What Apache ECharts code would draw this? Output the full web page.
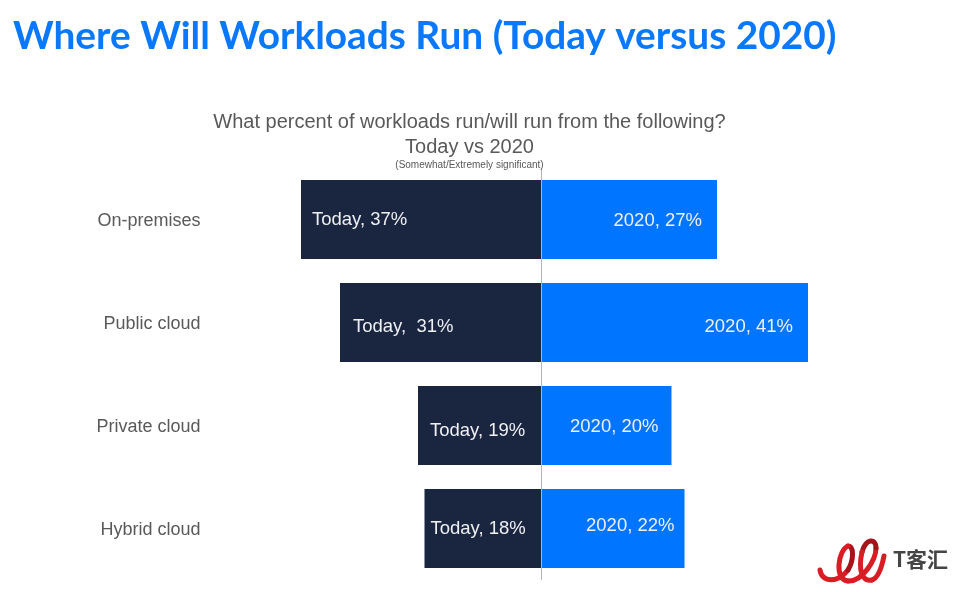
<!DOCTYPE html>
<html>
<head>
<meta charset="utf-8">
<style>
  html, body { margin: 0; padding: 0; background: #fff; }
  #chart { width: 960px; height: 592px; }
</style>
<script src="https://cdn.jsdelivr.net/npm/echarts@6/dist/echarts.min.js"></script>
</head>
<body>
<div id="chart"></div>
<script>
const categories = ['On-premises', 'Public cloud', 'Private cloud', 'Hybrid cloud'];
const todayValues = [37, 31, 19, 18];
const futureValues = [27, 41, 20, 22];
const todayLabels = ['Today, 37%', 'Today,  31%', 'Today, 19%', 'Today, 18%'];
const futureLabels = ['2020, 27%', '2020, 41%', '2020, 20%', '2020, 22%'];

// the labels are placed by hand in the original, so they do not line up
const todayOffsets = [[11, 0], [13, 4], [12, 5], [6, 0]];
const futureOffsets = [[-15, 1], [-15, 4], [-13, 1], [-10, -3]];

const sans = '"Liberation Sans", Arial, sans-serif';

function barData(values, labels, offsets, sign, position)
{
    return values.map((value, i) => ({
        value: sign * value,
        label: { formatter: labels[i], position: position, distance: 0, offset: offsets[i] }
    }));
}

function logoStroke(x1, y1, cpx1, cpy1, cpx2, cpy2, x2, y2, color)
{
    return {
        type: 'bezierCurve',
        shape: { x1, y1, cpx1, cpy1, cpx2, cpy2, x2, y2 },
        style: { fill: 'none', stroke: color, lineWidth: 5, lineCap: 'round' }
    };
}

const chart = echarts.init(document.getElementById('chart'));

chart.setOption({
    animation: false,
    backgroundColor: '#fff',
    title: [
        {
            text: 'Where Will Workloads Run (Today versus 2020)',
            left: 13, top: 17, padding: 0,
            textStyle: { color: '#0a78fb', fontFamily: 'Lato', fontWeight: 'bold', fontSize: 38.8 }
        },
        {
            text: 'What percent of workloads run/will run from the following?',
            left: 469.5, top: 112, padding: 0, textAlign: 'center',
            textStyle: { color: '#595959', fontFamily: sans, fontWeight: 'normal', fontSize: 20 }
        },
        {
            text: 'Today vs 2020',
            left: 469.5, top: 137, padding: 0, textAlign: 'center',
            textStyle: { color: '#595959', fontFamily: sans, fontWeight: 'normal', fontSize: 20 }
        },
        {
            text: '(Somewhat/Extremely significant)',
            left: 469.5, top: 160, padding: 0, textAlign: 'center',
            textStyle: { color: '#595959', fontFamily: sans, fontWeight: 'normal', fontSize: 10 }
        }
    ],
    grid: { left: 216.5, width: 650, top: 168, height: 412 },
    xAxis: { type: 'value', min: -50, max: 50, show: false },
    yAxis: {
        type: 'category',
        data: categories,
        inverse: true,
        axisLine: { show: false },
        axisTick: { show: false },
        axisLabel: {
            margin: 16,
            formatter: '{name|{value}}',
            rich: {
                name: { color: '#595959', fontFamily: sans, fontSize: 18, padding: [4, 0, 0, 0] }
            }
        }
    },
    series: [
        {
            name: 'Today',
            type: 'bar',
            stack: 'share',
            barWidth: 79,
            itemStyle: { color: '#1a2540' },
            label: { show: true, color: '#eef0f4', fontFamily: sans, fontSize: 18.5 },
            data: barData(todayValues, todayLabels, todayOffsets, -1, 'insideLeft')
        },
        {
            name: '2020',
            type: 'bar',
            stack: 'share',
            barWidth: 79,
            itemStyle: { color: '#0075ff' },
            label: { show: true, color: '#eef0f4', fontFamily: sans, fontSize: 18.5 },
            // centre line between the two sides
            markLine: {
                silent: true,
                symbol: 'none',
                label: { show: false },
                lineStyle: { color: '#b4b4b4', width: 1, type: 'solid' },
                data: [{ xAxis: 0 }]
            },
            data: barData(futureValues, futureLabels, futureOffsets, 1, 'insideRight')
        }
    ],
    graphic: [
        // watermark logo
        logoStroke(820, 570, 822, 583, 838, 583, 848, 570, '#d81e24'),
        logoStroke(848, 570, 854, 560, 854, 546, 848, 546, '#a5141a'),
        logoStroke(848, 546, 838, 550, 834, 580, 848, 581, '#d81e24'),
        logoStroke(848, 581, 862, 582, 876, 560, 876, 548, '#d81e24'),
        logoStroke(876, 548, 876, 538, 866, 538, 862, 552, '#a5141a'),
        logoStroke(862, 552, 858, 570, 862, 582, 872, 580, '#d81e24'),
        logoStroke(872, 580, 878, 578, 882, 566, 884, 556, '#d81e24'),
        {
            type: 'text',
            left: 893, top: 549,
            style: { text: 'T客汇', fill: '#454545', font: 'bold 21px "Noto Sans CJK SC"' }
        }
    ]
});
</script>
</body>
</html>
